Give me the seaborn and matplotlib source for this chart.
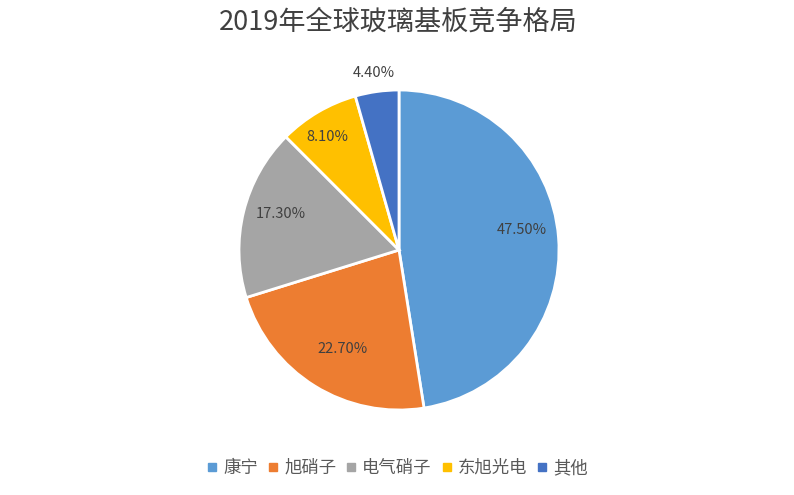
import matplotlib
matplotlib.use("Agg")
import matplotlib.pyplot as plt
from matplotlib.lines import Line2D
import seaborn as sns
import numpy as np

categories = ["康宁", "旭硝子", "电气硝子", "东旭光电", "其他"]
values = [47.5, 22.7, 17.3, 8.1, 4.4]
title = "2019年全球玻璃基板竞争格局"
colors = ["#5B9BD5", "#ED7D31", "#A5A5A5", "#FFC000", "#4472C4"]

sns.set_theme(style="white")
plt.rcParams['font.family'] = ['Noto Sans CJK SC', 'DejaVu Sans']

fig = plt.figure(figsize=(7.94, 4.95), dpi=100)
fig.patch.set_facecolor("white")
cx, cy, r = 399, 495 - 250, 160
ax = fig.add_axes([(cx - r) / 794, (cy - r) / 495, 2 * r / 794, 2 * r / 495])

wedges, texts, autotexts = ax.pie(
    values, colors=colors, startangle=90, counterclock=False,
    autopct=lambda p: f"{p:.2f}%", pctdistance=0.77,
    wedgeprops=dict(edgecolor="white", linewidth=2),
    textprops=dict(fontsize=10.5, color="#404040"), radius=1)

label_r = [0.78, 0.71, 0.77, 0.84, 1.12]
label_shift = [4.5, 2.0, -3.0, 2.0, 0.0]
for w, t, lr, sh in zip(wedges, autotexts, label_r, label_shift):
    ang = np.deg2rad((w.theta1 + w.theta2) / 2 + sh)
    t.set_position((lr * np.cos(ang), lr * np.sin(ang)))
ax.set_xlim(-1, 1)
ax.set_ylim(-1, 1)
ax.set_aspect("equal")
ax.axis("off")

fig.text(398 / 794, 1 - 22 / 495, title, ha="center", va="center",
         fontsize=19.5, color="#404040")

handles = [Line2D([0], [0], marker="s", linestyle="none", markersize=5.5,
                  markerfacecolor=c, markeredgecolor=c) for c in colors]
fig.legend(handles, categories, loc="center", bbox_to_anchor=(397 / 794, 1 - 468 / 495),
           ncol=5, frameon=False, fontsize=12.5, handletextpad=0.3,
           columnspacing=0.5, labelcolor="#595959", handlelength=0.7)

fig.savefig("out.png", dpi=100, facecolor="white")
